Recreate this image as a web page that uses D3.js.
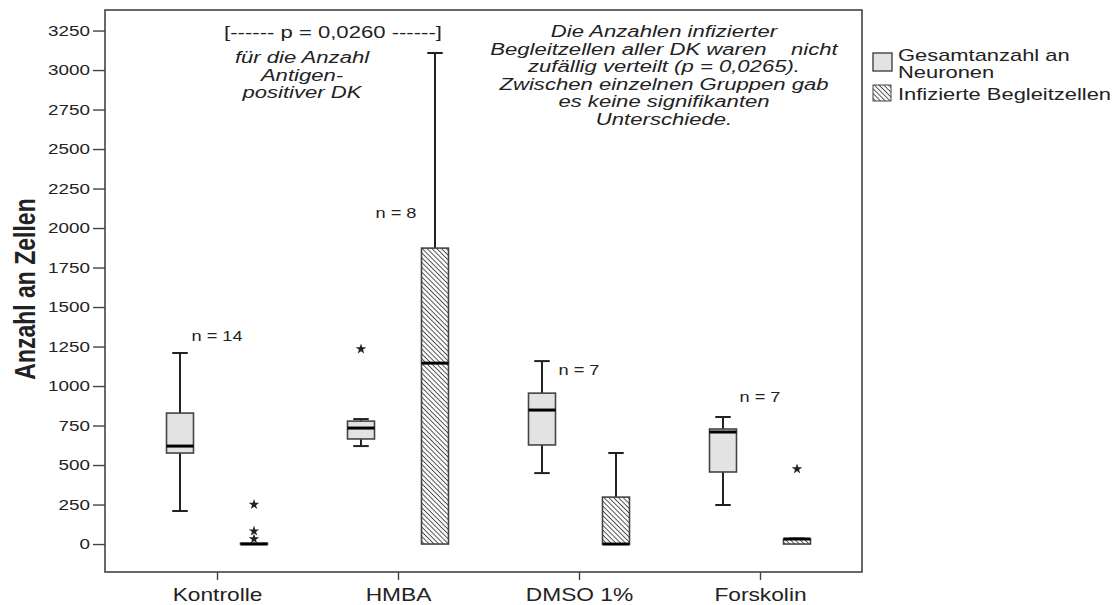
<!DOCTYPE html>
<html>
<head>
<meta charset="utf-8">
<script src="https://cdn.jsdelivr.net/npm/d3@7"></script>
<style>
  html, body { margin: 0; padding: 0; background: #fff; }
  svg { display: block; }
  text { font-family: "Liberation Sans", Arial, sans-serif; fill: #222; }
</style>
</head>
<body>
<svg id="chart" width="1117" height="605"></svg>
<script>
// Groups and series
const categories = ["Kontrolle", "HMBA", "DMSO 1%", "Forskolin"];
const seriesNames = ["Gesamtanzahl an Neuronen", "Infizierte Begleitzellen"];

// Five-number summaries per group: [lower whisker, Q1, median, Q3, upper whisker]
const neuronen = [
  [209, 576, 620, 829, 1209],
  [620, 665, 734, 778, 791],
  [449, 627, 848, 955, 1158],
  [247, 456, 709, 728, 804]
];
const begleitzellen = [
  [0, 0, 0, 5, 5],
  [0, 0, 1145, 1873, 3108],
  [0, 0, 0, 297, 576],
  [0, 0, 32, 32, 35]
];

// Extreme values (stars)
const neuronenExtremes = [[], [1234], [], []];
const begleitExtremes = [[250, 82, 32], [], [], [475]];

const groupN = ["n = 14", "n = 8", "n = 7", "n = 7"];
const yTicks = [0, 250, 500, 750, 1000, 1250, 1500, 1750, 2000, 2250, 2500, 2750, 3000, 3250];

const SX = 1.3; // horizontal text stretch used throughout the figure

const svg = d3.select("#chart");
const frame = { left: 105, right: 862, top: 10, bottom: 572 };

const y = d3.scaleLinear().domain([-177, 3380]).range([frame.bottom, frame.top]);
const x = d3.scalePoint().domain(categories).range([217, 760]);

const boxW = 27, offset = 37;

// widen text glyphs horizontally around their anchor point
function stretch(sel, sx = SX) {
  sel.each(function () {
    const t = d3.select(this);
    const tx = +t.attr("x") || 0, ty = +t.attr("y") || 0;
    t.attr("x", 0).attr("y", 0).attr("transform", `translate(${tx},${ty}) scale(${sx},1)`);
  });
}

// hatch pattern (lines running from top-left to bottom-right)
const defs = svg.append("defs");
const pat = defs.append("pattern")
  .attr("id", "hatch").attr("patternUnits", "userSpaceOnUse")
  .attr("width", 3.4).attr("height", 3.4)
  .attr("patternTransform", "rotate(-45)");
pat.append("rect").attr("width", 3.4).attr("height", 3.4).attr("fill", "#fafafa");
pat.append("line").attr("x1", 0).attr("y1", 0).attr("x2", 0).attr("y2", 3.4)
  .attr("stroke", "#2a2a2a").attr("stroke-width", 1.5);

// frame
svg.append("rect")
  .attr("x", frame.left).attr("y", frame.top)
  .attr("width", frame.right - frame.left).attr("height", frame.bottom - frame.top)
  .attr("fill", "none").attr("stroke", "#444").attr("stroke-width", 1.6);

// y axis
const yAxis = d3.axisLeft(y).tickValues(yTicks).tickSize(12).tickPadding(3).tickFormat(d3.format("d"));
const gy = svg.append("g").attr("transform", `translate(${frame.left},0)`).call(yAxis);
gy.select(".domain").remove();
gy.selectAll(".tick line").attr("stroke", "#444").attr("stroke-width", 1.4);
gy.selectAll(".tick text").style("font-size", "14.5px").attr("fill", "#333");
stretch(gy.selectAll(".tick text"));

// x axis
const xAxis = d3.axisBottom(x).tickSize(8).tickPadding(9);
const gx = svg.append("g").attr("transform", `translate(0,${frame.bottom})`).call(xAxis);
gx.select(".domain").remove();
gx.selectAll(".tick line").attr("stroke", "#444").attr("stroke-width", 1.4);
gx.selectAll(".tick text").style("font-size", "17.5px").attr("fill", "#333");
stretch(gx.selectAll(".tick text"));

// y title
svg.append("text")
  .attr("transform", `translate(35,289) scale(${SX},1) rotate(-90)`)
  .attr("text-anchor", "middle")
  .style("font-size", "23px").style("font-weight", "bold").attr("fill", "#111")
  .text("Anzahl an Zellen");

function drawBox(g, cx, s, fill) {
  const [lo, q1, med, q3, hi] = s;
  const cap = boxW * 0.5;
  g.append("line").attr("x1", cx).attr("x2", cx).attr("y1", y(hi)).attr("y2", y(q3))
    .attr("stroke", "#222").attr("stroke-width", 2);
  g.append("line").attr("x1", cx).attr("x2", cx).attr("y1", y(q1)).attr("y2", y(lo))
    .attr("stroke", "#222").attr("stroke-width", 2);
  if (hi > q3) g.append("line").attr("x1", cx - cap / 2 - 1).attr("x2", cx + cap / 2 + 1)
    .attr("y1", y(hi)).attr("y2", y(hi)).attr("stroke", "#222").attr("stroke-width", 2);
  if (lo < q1) g.append("line").attr("x1", cx - cap / 2 - 1).attr("x2", cx + cap / 2 + 1)
    .attr("y1", y(lo)).attr("y2", y(lo)).attr("stroke", "#222").attr("stroke-width", 2);
  g.append("rect").attr("x", cx - boxW / 2).attr("width", boxW)
    .attr("y", y(q3)).attr("height", Math.max(0, y(q1) - y(q3)))
    .attr("fill", fill).attr("stroke", "#444").attr("stroke-width", 1.6);
  g.append("line").attr("x1", cx - boxW / 2).attr("x2", cx + boxW / 2)
    .attr("y1", y(med)).attr("y2", y(med)).attr("stroke", "#000").attr("stroke-width", 3);
}

const star = d3.symbol().type(d3.symbolStar).size(34);

categories.forEach((c, i) => {
  const g = svg.append("g");
  const c1 = x(c) - offset, c2 = x(c) + offset;
  drawBox(g, c1, neuronen[i], "#e3e3e3");
  drawBox(g, c2, begleitzellen[i], "url(#hatch)");
  neuronenExtremes[i].forEach(v => g.append("path").attr("d", star)
    .attr("transform", `translate(${c1},${y(v)})`).attr("fill", "#222"));
  begleitExtremes[i].forEach(v => g.append("path").attr("d", star)
    .attr("transform", `translate(${c2},${y(v)})`).attr("fill", "#222"));
});

// n labels
const nPos = [[217, 341], [396, 218], [579, 375], [760, 402]];
groupN.forEach((t, i) => {
  stretch(svg.append("text").attr("x", nPos[i][0]).attr("y", nPos[i][1])
    .attr("text-anchor", "middle").style("font-size", "14px").attr("fill", "#333").text(t));
});

// annotations
stretch(svg.append("text").attr("x", 333).attr("y", 38).attr("text-anchor", "middle")
  .style("font-size", "17px").attr("fill", "#333").text("[------ p = 0,0260 ------]"));

const leftNote = ["für die Anzahl", "Antigen-", "positiver DK"];
leftNote.forEach((t, i) => stretch(svg.append("text").attr("x", 302).attr("y", 63 + i * 17.5)
  .attr("text-anchor", "middle").style("font-size", "17px").style("font-style", "italic")
  .attr("fill", "#333").text(t)));

const rightNote = ["Die Anzahlen infizierter", "Begleitzellen aller DK waren    nicht",
  "zufällig verteilt (p = 0,0265).", "Zwischen einzelnen Gruppen gab",
  "es keine signifikanten", "Unterschiede."];
rightNote.forEach((t, i) => stretch(svg.append("text").attr("x", 664).attr("y", 37 + i * 17.5)
  .attr("text-anchor", "middle").style("font-size", "17px").style("font-style", "italic")
  .style("white-space", "pre").attr("fill", "#333").text(t)));

// legend
const lg = svg.append("g");
lg.append("rect").attr("x", 873).attr("y", 53).attr("width", 19).attr("height", 18)
  .attr("fill", "#e3e3e3").attr("stroke", "#444").attr("stroke-width", 1.4);
lg.append("rect").attr("x", 873).attr("y", 85).attr("width", 18).attr("height", 16)
  .attr("fill", "url(#hatch)").attr("stroke", "#444").attr("stroke-width", 1);
const legendLines = [["Gesamtanzahl an", 61], ["Neuronen", 78], [seriesNames[1], 100]];
legendLines.forEach(([t, yy]) => stretch(lg.append("text").attr("x", 898).attr("y", yy)
  .style("font-size", "16px").attr("fill", "#333").text(t), 1.37));
</script>
</body>
</html>
